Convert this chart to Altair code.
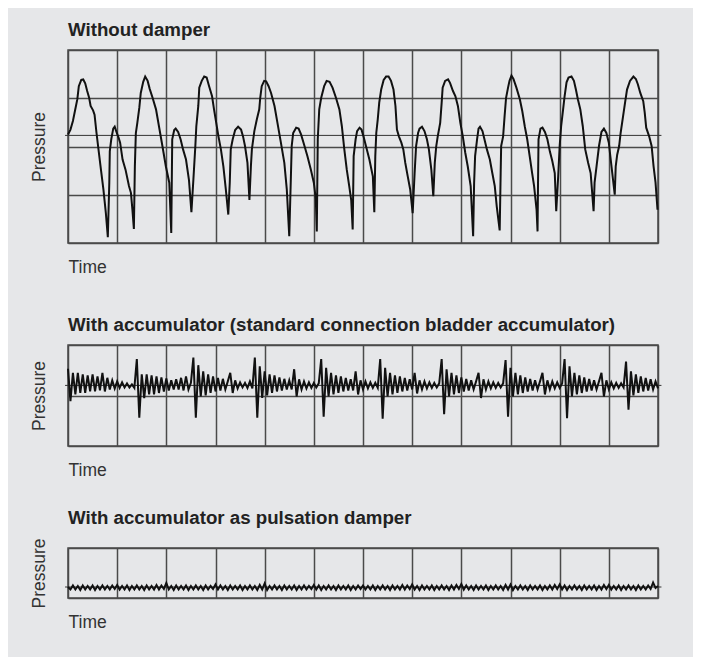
import altair as alt
import pandas as pd

FONT = "Liberation Sans"

# ---------------- data ----------------
# Panel 1: without damper  (time in grid columns 0..12, pressure in grid rows 0..4)
p1_points = [
    (0.00, 2.25), (0.05, 2.35), (0.10, 2.53), (0.14, 2.73), (0.19, 2.98), (0.22, 3.25),
    (0.27, 3.38), (0.31, 3.39), (0.35, 3.31), (0.39, 3.15), (0.43, 3.01), (0.46, 2.84),
    (0.51, 2.75), (0.54, 2.66), (0.58, 2.28), (0.62, 1.94), (0.67, 1.52), (0.72, 1.11),
    (0.77, 0.62), (0.81, 0.12), (0.84, 1.25), (0.85, 1.90), (0.88, 2.15), (0.92, 2.37),
    (0.95, 2.41), (0.98, 2.32), (1.03, 2.18), (1.06, 2.08), (1.11, 1.73), (1.17, 1.52),
    (1.24, 1.18), (1.28, 1.04), (1.31, 0.69), (1.34, 0.29), (1.36, 1.59), (1.38, 2.28),
    (1.41, 2.49), (1.45, 2.80), (1.48, 3.11), (1.53, 3.34), (1.57, 3.45), (1.62, 3.36),
    (1.66, 3.20), (1.72, 3.01), (1.79, 2.77), (1.85, 2.42), (1.92, 2.01), (1.99, 1.59),
    (2.06, 1.25), (2.10, 0.21), (2.12, 2.15), (2.16, 2.34), (2.19, 2.37), (2.24, 2.30),
    (2.29, 2.15), (2.34, 1.94), (2.40, 1.73), (2.46, 1.31), (2.51, 0.64), (2.55, 1.31),
    (2.59, 2.01), (2.61, 2.42), (2.65, 2.84), (2.67, 3.22), (2.72, 3.36), (2.77, 3.45),
    (2.82, 3.43), (2.87, 3.25), (2.93, 3.04), (2.97, 2.77), (3.02, 2.46), (3.06, 2.21),
    (3.11, 1.94), (3.16, 1.59), (3.21, 1.11), (3.26, 0.59), (3.29, 1.25), (3.31, 1.94),
    (3.35, 2.15), (3.40, 2.34), (3.46, 2.41), (3.52, 2.35), (3.56, 2.21), (3.60, 2.01),
    (3.65, 1.66), (3.69, 0.89), (3.72, 1.59), (3.74, 1.94), (3.79, 2.32), (3.84, 2.56),
    (3.89, 2.77), (3.91, 3.01), (3.94, 3.25), (3.99, 3.36), (4.03, 3.35), (4.08, 3.25),
    (4.13, 3.11), (4.20, 2.84), (4.26, 2.49), (4.33, 2.08), (4.40, 1.66), (4.45, 1.11),
    (4.50, 0.14), (4.53, 1.25), (4.55, 2.01), (4.58, 2.28), (4.64, 2.39), (4.69, 2.37),
    (4.74, 2.25), (4.81, 2.01), (4.87, 1.80), (4.94, 1.52), (5.00, 1.25), (5.04, 0.91),
    (5.06, 0.24), (5.08, 2.15), (5.11, 2.77), (5.15, 3.01), (5.21, 3.25), (5.26, 3.36),
    (5.32, 3.34), (5.38, 3.22), (5.45, 3.01), (5.52, 2.77), (5.57, 2.42), (5.62, 1.94),
    (5.67, 1.52), (5.72, 1.18), (5.76, 0.89), (5.79, 0.28), (5.81, 1.80), (5.85, 2.15),
    (5.88, 2.32), (5.93, 2.39), (5.97, 2.35), (6.01, 2.21), (6.06, 2.01), (6.13, 1.73),
    (6.20, 1.38), (6.23, 0.64), (6.25, 1.80), (6.27, 2.28), (6.30, 2.56), (6.33, 2.91),
    (6.37, 3.18), (6.42, 3.38), (6.47, 3.45), (6.52, 3.45), (6.57, 3.36), (6.62, 3.18),
    (6.66, 2.84), (6.69, 2.35), (6.73, 2.21), (6.78, 2.08), (6.82, 1.94), (6.86, 1.66),
    (6.91, 1.38), (6.96, 1.11), (7.01, 0.62), (7.05, 1.45), (7.08, 2.01), (7.12, 2.28),
    (7.15, 2.37), (7.20, 2.41), (7.25, 2.32), (7.30, 2.15), (7.34, 1.94), (7.39, 1.52),
    (7.43, 0.97), (7.46, 1.66), (7.49, 2.01), (7.52, 2.21), (7.57, 2.49), (7.60, 2.91),
    (7.62, 3.22), (7.67, 3.36), (7.73, 3.39), (7.77, 3.32), (7.83, 3.15), (7.88, 3.04),
    (7.93, 2.84), (7.98, 2.49), (8.03, 2.21), (8.08, 1.87), (8.13, 1.59), (8.19, 1.18),
    (8.24, 0.14), (8.26, 1.25), (8.28, 1.80), (8.32, 2.15), (8.35, 2.37), (8.38, 2.41),
    (8.43, 2.32), (8.47, 2.15), (8.52, 1.94), (8.58, 1.73), (8.63, 1.45), (8.68, 1.18),
    (8.72, 0.76), (8.78, 0.26), (8.80, 1.45), (8.81, 2.01), (8.85, 2.21), (8.88, 2.63),
    (8.91, 3.01), (8.95, 3.22), (8.98, 3.36), (9.02, 3.47), (9.06, 3.40), (9.12, 3.22),
    (9.19, 2.98), (9.24, 2.73), (9.29, 2.42), (9.34, 2.15), (9.39, 1.80), (9.44, 1.45),
    (9.48, 1.18), (9.53, 0.69), (9.55, 0.24), (9.56, 1.25), (9.57, 2.15), (9.61, 2.37),
    (9.65, 2.39), (9.70, 2.30), (9.75, 2.15), (9.80, 1.90), (9.85, 1.70), (9.90, 1.45),
    (9.93, 0.66), (9.97, 1.38), (10.00, 2.01), (10.03, 2.42), (10.07, 2.77), (10.10, 3.04),
    (10.14, 3.33), (10.18, 3.43), (10.24, 3.45), (10.29, 3.36), (10.33, 3.18), (10.37, 2.98),
    (10.42, 2.77), (10.47, 2.42), (10.52, 1.94), (10.58, 1.66), (10.63, 1.45), (10.69, 0.66),
    (10.71, 1.25), (10.75, 1.59), (10.80, 2.01), (10.85, 2.30), (10.90, 2.37), (10.95, 2.28),
    (11.00, 2.08), (11.03, 1.80), (11.07, 1.45), (11.12, 1.00), (11.14, 1.59), (11.17, 1.83),
    (11.21, 2.01), (11.24, 2.28), (11.29, 2.63), (11.33, 2.91), (11.37, 3.18), (11.43, 3.36),
    (11.50, 3.45), (11.55, 3.40), (11.59, 3.29), (11.64, 3.11), (11.70, 2.94), (11.73, 2.70),
    (11.76, 2.39), (11.82, 2.21), (11.87, 2.01), (11.91, 1.59), (11.95, 1.25), (11.99, 0.69),
]
p1_axis_level = 2.23

# Panel 2: standard connection bladder accumulator (sampled every 0.05 column, rows 0..2)
p2_step = 0.05
p2_pressure = [
    1.53, 0.89, 1.45, 1.02, 1.45, 1.05, 1.42, 1.05, 1.40, 1.08, 1.42, 1.08, 1.38, 1.10, 1.45, 1.08,
    1.35, 1.12, 1.30, 1.14, 1.28, 1.15, 1.26, 1.16, 1.24, 1.16, 1.22, 1.15, 1.72, 0.56,
    1.42, 0.95, 1.42, 1.02, 1.40, 1.02, 1.38, 1.05, 1.36, 1.08, 1.34, 1.10, 1.30, 1.12, 1.32, 1.12,
    1.35, 1.10, 1.38, 1.12, 1.25, 1.75, 0.56,
    1.60, 0.98, 1.48, 1.00, 1.42, 1.05, 1.38, 1.08, 1.35, 1.10, 1.33, 1.12, 1.28, 1.45, 1.05, 1.30,
    1.14, 1.26, 1.16, 1.25, 1.15, 1.28, 1.14, 1.75, 0.56,
    1.58, 0.95, 1.48, 1.00, 1.42, 1.05, 1.40, 1.08, 1.36, 1.10, 1.33, 1.12, 1.30, 1.12, 1.52, 0.98,
    1.32, 1.12, 1.28, 1.14, 1.26, 1.15, 1.25, 1.16, 1.24, 1.72, 0.58,
    1.55, 0.98, 1.45, 1.02, 1.40, 1.05, 1.38, 1.08, 1.35, 1.10, 1.32, 1.10, 1.48, 1.02, 1.30, 1.12,
    1.28, 1.14, 1.26, 1.15, 1.25, 1.15, 1.72, 0.54,
    1.55, 0.98, 1.45, 1.02, 1.40, 1.05, 1.38, 1.08, 1.35, 1.10, 1.32, 1.12, 1.45, 1.04, 1.30, 1.12,
    1.28, 1.14, 1.26, 1.15, 1.25, 1.16, 1.24, 1.72, 0.63,
    1.52, 0.98, 1.45, 1.02, 1.40, 1.05, 1.36, 1.08, 1.33, 1.10, 1.30, 1.12, 1.28, 1.45, 0.95, 1.32,
    1.12, 1.28, 1.14, 1.26, 1.15, 1.25, 1.16, 1.24, 1.70, 0.58,
    1.55, 0.98, 1.45, 1.02, 1.40, 1.05, 1.36, 1.08, 1.33, 1.10, 1.30, 1.12, 1.28, 1.45, 1.02, 1.30,
    1.12, 1.28, 1.14, 1.26, 1.15, 1.24, 1.72, 0.55,
    1.58, 0.98, 1.45, 1.02, 1.40, 1.05, 1.36, 1.08, 1.33, 1.10, 1.30, 1.12, 1.28, 1.45, 0.98, 1.30,
    1.12, 1.26, 1.14, 1.25, 1.15, 1.24, 1.16, 1.67, 0.72,
    1.48, 1.00, 1.42, 1.05, 1.38, 1.08, 1.35, 1.10, 1.32, 1.12, 1.28, 1.14,
]
p2_axis_level = 1.20

# Panel 3: accumulator as pulsation damper (sampled every 0.05 column, one row 0..1)
p3_step = 0.05
p3_pressure = [
    0.22, 0.17, 0.25, 0.17, 0.24, 0.16, 0.25, 0.17, 0.24, 0.17, 0.25, 0.16, 0.24, 0.17, 0.25, 0.17, 0.24, 0.17, 0.25, 0.18,
    0.26, 0.17, 0.24, 0.17, 0.25, 0.16, 0.24, 0.17, 0.25, 0.17, 0.24, 0.16, 0.25, 0.17, 0.24, 0.17, 0.26, 0.17, 0.25, 0.18,
    0.30, 0.17, 0.24, 0.16, 0.25, 0.17, 0.24, 0.17, 0.25, 0.16, 0.24, 0.17, 0.25, 0.17, 0.24, 0.16, 0.25, 0.17, 0.24, 0.18,
    0.27, 0.17, 0.25, 0.17, 0.24, 0.16, 0.25, 0.17, 0.24, 0.17, 0.25, 0.16, 0.24, 0.17, 0.25, 0.17, 0.24, 0.16, 0.26, 0.17,
    0.29, 0.16, 0.24, 0.17, 0.25, 0.17, 0.24, 0.16, 0.25, 0.17, 0.24, 0.17, 0.25, 0.16, 0.24, 0.17, 0.25, 0.17, 0.24, 0.18,
    0.26, 0.17, 0.25, 0.16, 0.24, 0.17, 0.25, 0.17, 0.24, 0.16, 0.25, 0.17, 0.24, 0.17, 0.25, 0.16, 0.24, 0.17, 0.25, 0.18,
    0.25, 0.17, 0.24, 0.17, 0.25, 0.16, 0.24, 0.17, 0.25, 0.17, 0.24, 0.16, 0.25, 0.17, 0.24, 0.17, 0.26, 0.17, 0.25, 0.18,
    0.27, 0.17, 0.24, 0.16, 0.25, 0.17, 0.24, 0.17, 0.25, 0.16, 0.24, 0.17, 0.25, 0.17, 0.24, 0.16, 0.25, 0.17, 0.26, 0.18,
    0.28, 0.17, 0.25, 0.17, 0.24, 0.16, 0.25, 0.17, 0.24, 0.17, 0.25, 0.16, 0.24, 0.17, 0.25, 0.17, 0.24, 0.16, 0.26, 0.17,
    0.27, 0.16, 0.24, 0.17, 0.25, 0.17, 0.24, 0.16, 0.25, 0.17, 0.24, 0.17, 0.25, 0.16, 0.24, 0.17, 0.25, 0.17, 0.26, 0.18,
    0.27, 0.17, 0.25, 0.16, 0.24, 0.17, 0.25, 0.17, 0.24, 0.16, 0.25, 0.17, 0.24, 0.17, 0.25, 0.16, 0.24, 0.17, 0.26, 0.18,
    0.26, 0.17, 0.24, 0.17, 0.25, 0.16, 0.24, 0.17, 0.25, 0.17, 0.24, 0.16, 0.25, 0.17, 0.24, 0.17, 0.25, 0.18, 0.31, 0.20,
    0.24,
]
p3_axis_level = 0.22

titles = [
    "Without damper",
    "With accumulator (standard connection bladder accumulator)",
    "With accumulator as pulsation damper",
]
x_title = "Time"
y_title = "Pressure"
n_columns = 12

# ---------------- chart ----------------
W = 590
GRID = "#4a4a4a"


def panel(df, rows, height, level, title):
    x = alt.X(
        "t:Q",
        scale=alt.Scale(domain=[0, n_columns], nice=False, zero=False),
        axis=alt.Axis(
            values=list(range(n_columns + 1)), grid=True, labels=False, ticks=False,
            domain=False, title=x_title, titleX=0, titleY=29, titleAlign="left",
            titleBaseline="alphabetic", titleFontSize=17.5, titleFontWeight="normal",
            titleColor="#333333", titleFont=FONT,
        ),
    )
    y = alt.Y(
        "p:Q",
        scale=alt.Scale(domain=[0, rows], nice=False, zero=False),
        axis=alt.Axis(
            values=list(range(rows + 1)), grid=True, labels=False, ticks=False,
            domain=False, title=y_title, titleX=-24, titleY=height / 2,
            titleAngle=270, titleAlign="center", titleBaseline="alphabetic",
            titleFontSize=17.5, titleFontWeight="normal", titleColor="#333333",
            titleFont=FONT,
        ),
    )
    line = alt.Chart(df).mark_line(color="#111111", strokeWidth=2).encode(x=x, y=y)
    axis_line = alt.Chart(alt.Data(values=[{}])).mark_rule(
        color="#333333", strokeWidth=1
    ).encode(x=alt.datum(-0.06), x2=alt.datum(n_columns + 0.07), y=alt.datum(level))
    return alt.layer(axis_line, line).properties(
        width=W,
        height=height,
        title=alt.TitleParams(
            title, anchor="start", frame="group", fontSize=18.7, fontWeight="bold",
            font=FONT, color="#222222", baseline="alphabetic", offset=-5,
        ),
    )


df1 = pd.DataFrame(p1_points, columns=["t", "p"])
df2 = pd.DataFrame({"t": [round(i * p2_step, 2) for i in range(len(p2_pressure))], "p": p2_pressure})
df3 = pd.DataFrame({"t": [round(i * p3_step, 2) for i in range(len(p3_pressure))], "p": p3_pressure})

chart = alt.vconcat(
    panel(df1, 4, 193, p1_axis_level, titles[0]),
    panel(df2, 2, 101, p2_axis_level, titles[1]),
    panel(df3, 1, 50, p3_axis_level, titles[2]),
    spacing=102,
    bounds="flush",
).configure(
    background="#e6e7e9",
    font=FONT,
    padding={"left": 21, "top": 12, "right": 30, "bottom": 25},
).configure_view(
    stroke=GRID, strokeWidth=1.5
).configure_axis(
    gridColor=GRID, gridWidth=1.5, gridOpacity=1
)

chart.save("out.html", embed_options={"renderer": "svg", "actions": False})
